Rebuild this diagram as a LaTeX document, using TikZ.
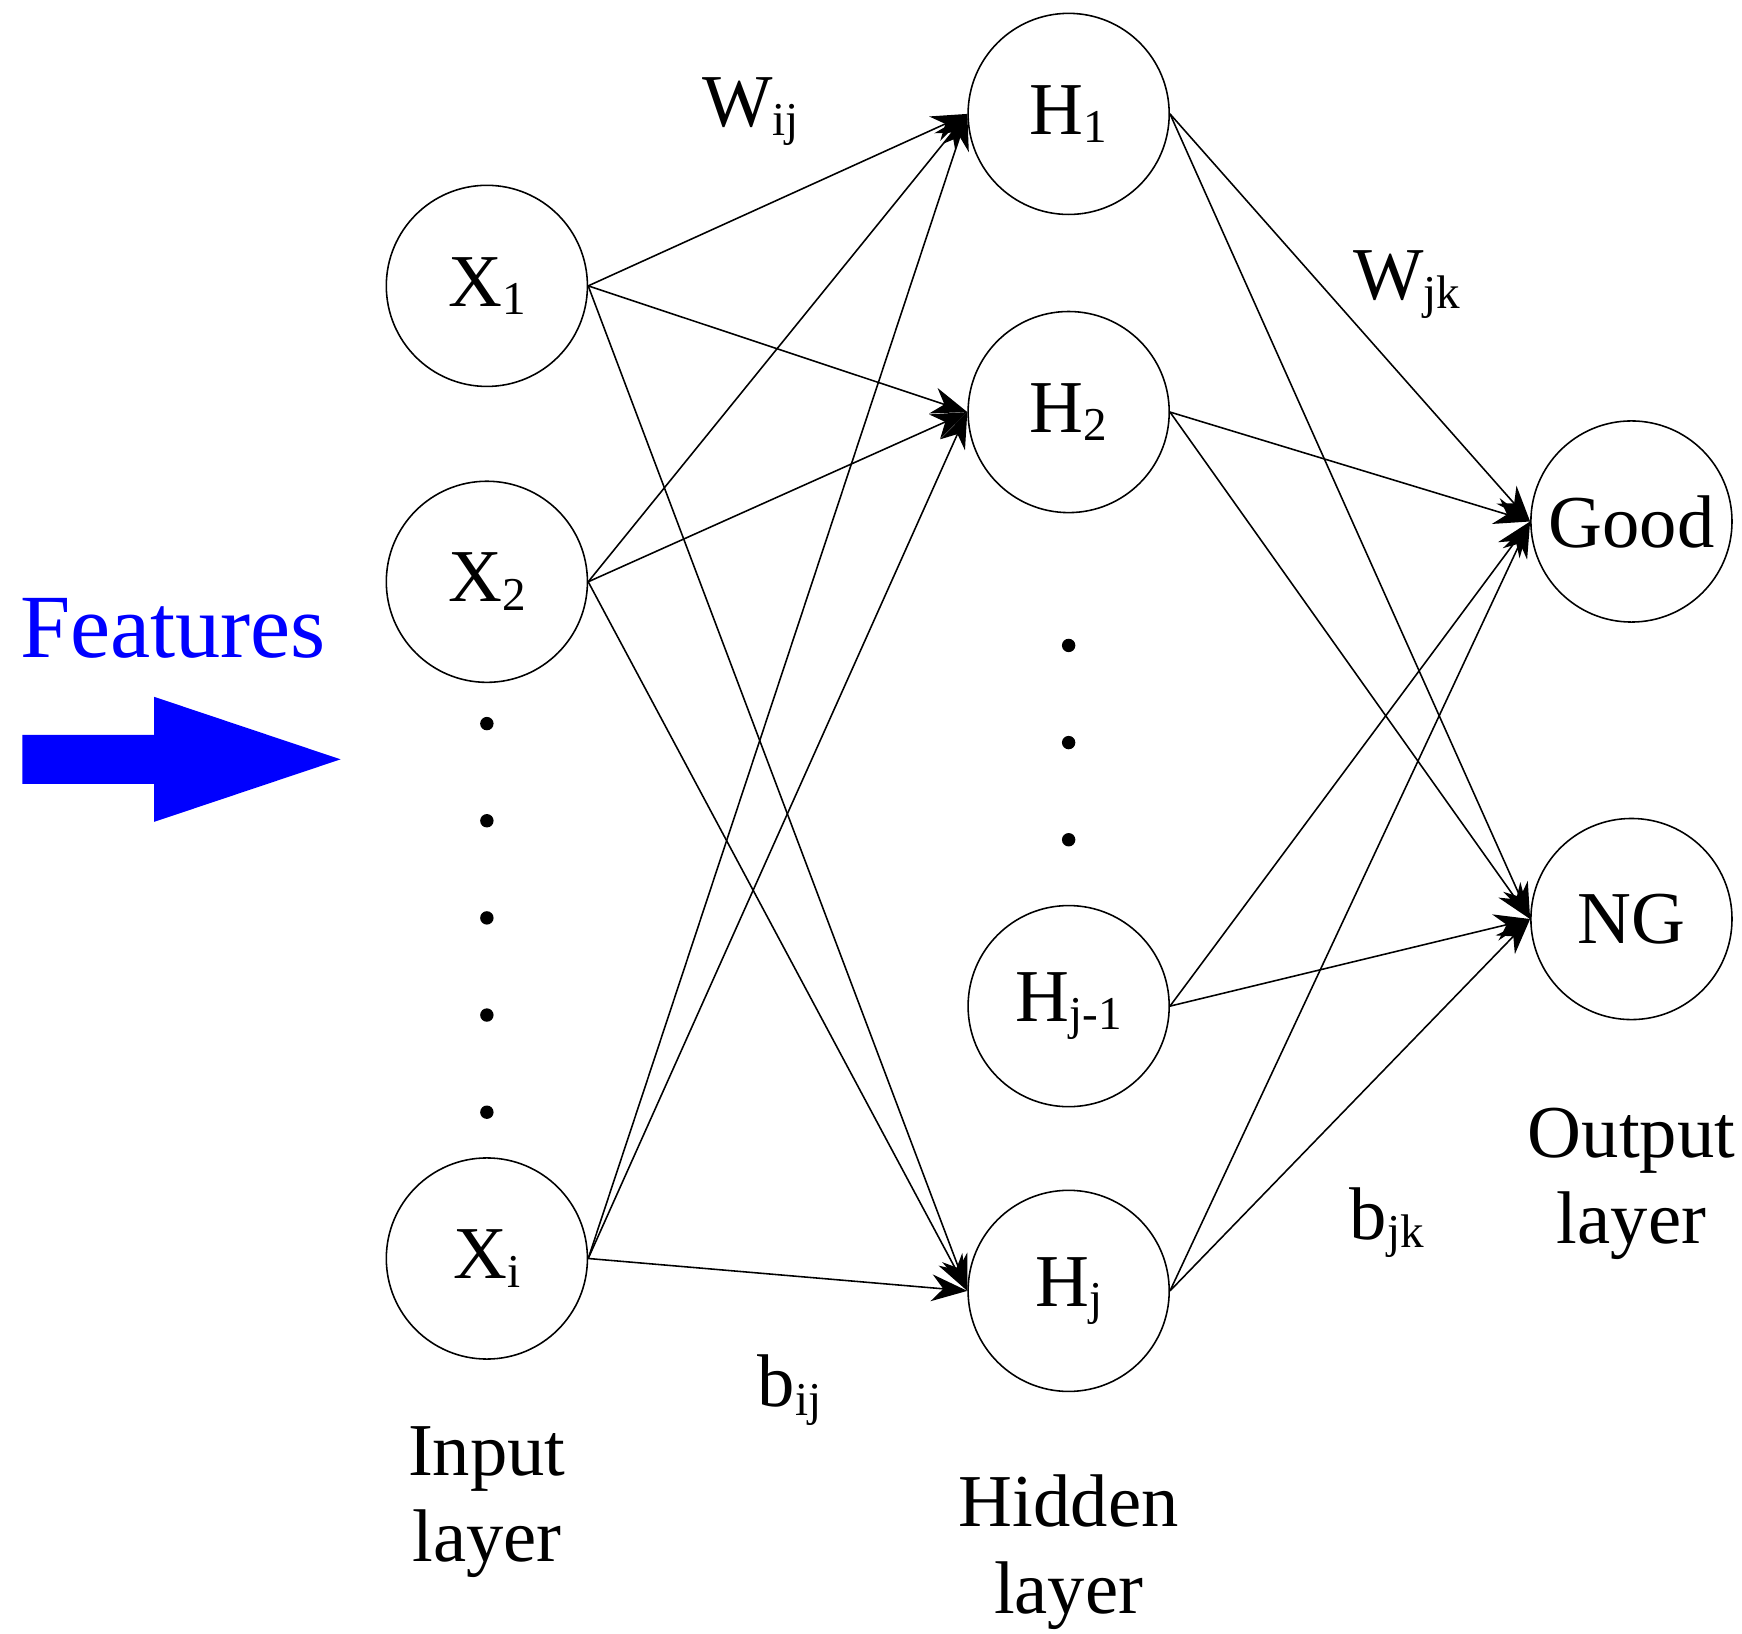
\documentclass[tikz,border=0pt]{standalone}
\usepackage{fontspec}
\setmainfont{Liberation Serif}
\usetikzlibrary{arrows.meta}
\usetikzlibrary{positioning}
\tikzset{
    % Neuron circles
    neuron/.style={draw, circle, minimum size=1.8cm, inner sep=0pt,
        font=\fontsize{19}{22}\selectfont},
    % Connection lines with a filled tip
    link/.style={-{Stealth[length=3.2mm,width=2.4mm]}, thin},
    % Plain text labels
    caption text/.style={align=center, font=\fontsize{19}{22}\selectfont},
    % Dots between neurons
    gap dot/.style={circle, fill, inner sep=0pt, minimum size=1.2mm}}
\newcommand{\lo}[1]{\raisebox{-0.25ex}{\fontsize{12}{14}\selectfont #1}}

\begin{document}
\begin{tikzpicture}[x=0.01cm, y=-0.01cm]

\useasboundingbox (0,0) rectangle (1560,1463);

% Input layer
\node [neuron] (x1) at (436,256) {X\lo{1}};
\node [neuron] (x2) at (436,521) {X\lo{2}};
\node [neuron] (xi) at (436,1127) {X\lo{i}};
\foreach \y in {648,735,822,909,996}
    \node [gap dot] at (436,\y) {};

% Hidden layer
\node [neuron] (h1) at (957,102) {H\lo{1}};
\node [neuron] (h2) at (957,369) {H\lo{2}};
\node [neuron] (hm) at (957,901) {H\lo{j-1}};
\node [neuron] (hj) at (957,1156) {H\lo{j}};
\foreach \y in {578,665,752}
    \node [gap dot] at (957,\y) {};

% Output layer
\node [neuron] (good) at (1461,467) {Good};
\node [neuron] (ng) at (1461,823) {NG};

% Connections
\foreach \a in {x1,x2,xi}
    \foreach \b in {h1,h2,hj}
        \draw [link] (\a.east) -- (\b.west);
\foreach \a in {h1,h2,hm,hj}
    \foreach \b in {good,ng}
        \draw [link] (\a.east) -- (\b.west);

% Labels
\node [caption text] (wij) at (672,100) {W\lo{ij}};
\node [caption text] (wjk) at (1260,255) {W\lo{jk}};
\node [caption text] (bij) at (707,1245) {b\lo{ij}};
\node [caption text] (bjk) at (1242,1095) {b\lo{jk}};
\node [caption text] (inl) at (436,1345) {Input\\layer};
\node [caption text] (hidl) at (957,1390) {Hidden\\layer};
\node [caption text] (outl) at (1461,1060) {Output\\layer};

% Features arrow
\node [caption text, text=blue, font=\fontsize{23}{26}\selectfont] (feat) at (155,563) {Features};
\fill [blue] (20,658) -- (138,658) -- (138,624) -- (305,680)
    -- (138,736) -- (138,702) -- (20,702) -- cycle;

\end{tikzpicture}
\end{document}
